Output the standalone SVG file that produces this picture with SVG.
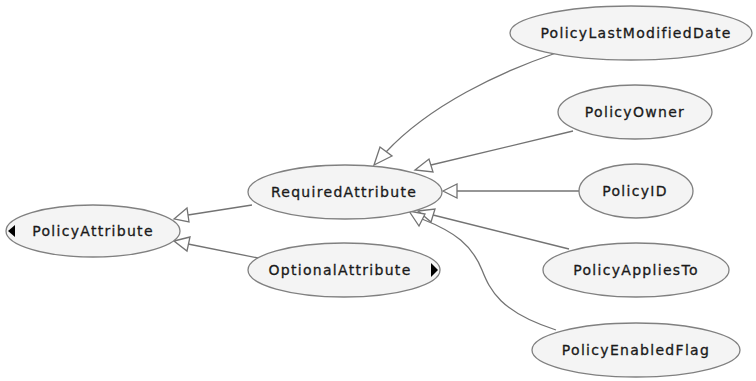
<svg xmlns="http://www.w3.org/2000/svg" width="756" height="381" viewBox="0 0 756 381">
<style>
.node ellipse{fill:#f4f4f4;stroke:#808080;stroke-width:1.3}
.node text{font-family:"DejaVu Sans",Verdana,sans-serif;font-size:14px;fill:#1a1a1a;stroke:#1a1a1a;stroke-width:0.3;text-anchor:middle;letter-spacing:1.3px}
.edge{fill:none;stroke:#737373;stroke-width:1.3}
.head{fill:#ffffff;stroke:#737373;stroke-width:1.3}
.tri{fill:#000}
</style>
<rect width="756" height="381" fill="#ffffff"/>
<g id="connectors">
<path class="edge" d="M556,53 C500,72 430,105 386,152"/>
<polygon class="head" points="374,165 380,147 392,156"/>
<path class="edge" d="M573,131 L431,165"/>
<polygon class="head" points="415,170 429,159 433,172"/>
<path class="edge" d="M579,191 L457,191"/>
<polygon class="head" points="443,191 457,184 457,198"/>
<path class="edge" d="M569,249 L433,215"/>
<polygon class="head" points="418,211 435,209 431,222"/>
<path class="edge" d="M556,330 C500,312 490,290 482,270 C472,245 455,232 422,219"/>
<polygon class="head" points="409,211 425,214 419,226"/>
<path class="edge" d="M252,205 L188,215"/>
<polygon class="head" points="174,219 187,208 189,222"/>
<path class="edge" d="M258,258 L188,244"/>
<polygon class="head" points="174,241 190,237 187,251"/>
</g>
<g id="PolicyAttribute" class="node">
<ellipse cx="93" cy="231" rx="87" ry="26"/>
<polygon class="tri" points="8,231 15,225 15,237"/>
<text x="93" y="236">PolicyAttribute</text>
</g>
<g id="RequiredAttribute" class="node">
<ellipse cx="345" cy="192" rx="97" ry="27"/>
<text x="344" y="197">RequiredAttribute</text>
</g>
<g id="OptionalAttribute" class="node">
<ellipse cx="344" cy="270" rx="96" ry="27"/>
<text x="340" y="275">OptionalAttribute</text>
<polygon class="tri" points="438,270 431,263 431,277"/>
</g>
<g id="PolicyLastModifiedDate" class="node">
<ellipse cx="631" cy="33" rx="121" ry="27"/>
<text x="636" y="38">PolicyLastModifiedDate</text>
</g>
<g id="PolicyOwner" class="node">
<ellipse cx="635" cy="112" rx="77" ry="27"/>
<text x="635" y="117">PolicyOwner</text>
</g>
<g id="PolicyID" class="node">
<ellipse cx="636" cy="191" rx="57" ry="27"/>
<text x="635" y="196">PolicyID</text>
</g>
<g id="PolicyAppliesTo" class="node">
<ellipse cx="636" cy="270" rx="93" ry="27"/>
<text x="636" y="275">PolicyAppliesTo</text>
</g>
<g id="PolicyEnabledFlag" class="node">
<ellipse cx="636" cy="350" rx="104" ry="27"/>
<text x="636" y="355">PolicyEnabledFlag</text>
</g>
</svg>
